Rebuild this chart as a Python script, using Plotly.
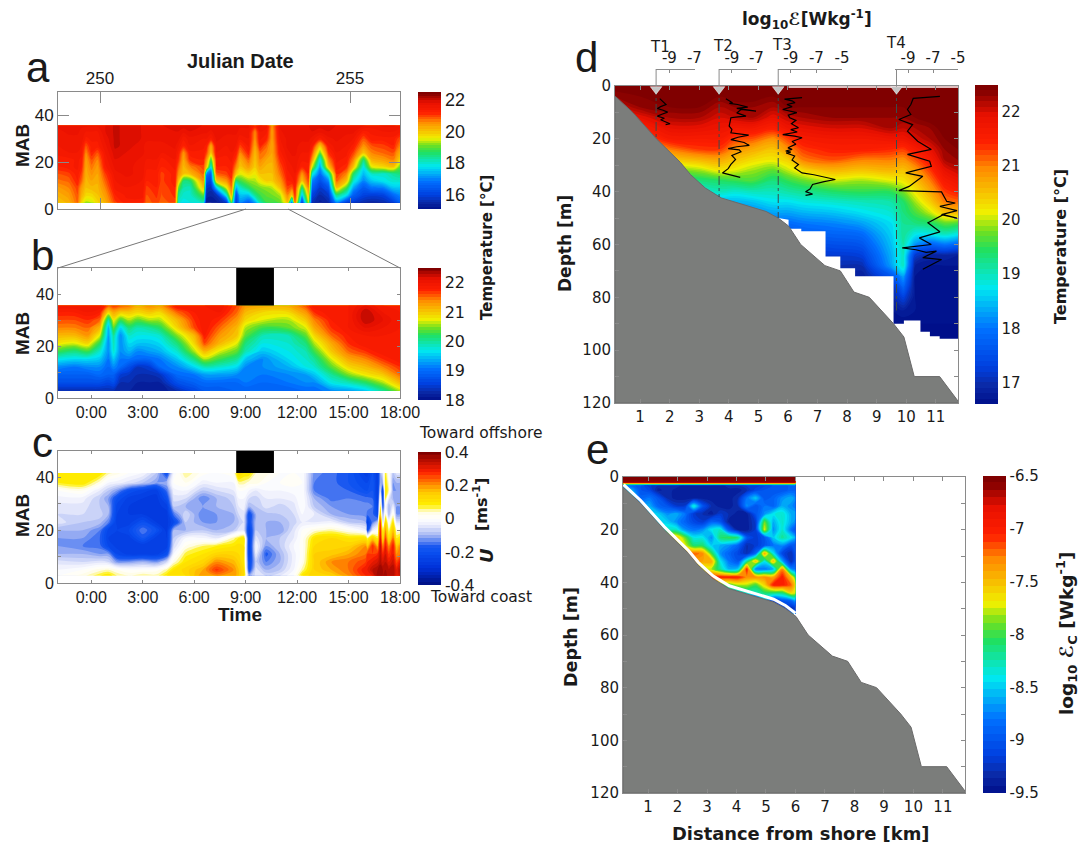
import numpy as np
import plotly.graph_objects as go

W, H = 1086, 843

# ---------- colour scales ----------
JET = [[0, '#000f8a'], [0.06, '#0a2aa8'], [0.12, '#0040e0'], [0.237, '#0070ff'], [0.37, '#00e8f0'],
       [0.49, '#20e060'], [0.55, '#70e020'], [0.61, '#f0f000'], [0.75, '#ff8c00'], [0.83, '#ff2000'],
       [0.92, '#e81000'], [1, '#800000']]
DIV = [[0, '#000f80'], [0.125, '#0030d8'], [0.25, '#0a50f0'], [0.2875, '#1a58f0'], [0.375, '#a8b8f4'], [0.45, '#eceefc'],
       [0.5, '#ffffff'], [0.55, '#fffce0'], [0.6, '#fff000'], [0.7, '#ffc800'], [0.75, '#ff9000'], [0.85, '#ff2000'],
       [1, '#800000']]

# ---------- panel a ----------
a_mab = [2.7, 6, 9, 12, 15, 18, 21, 24, 27, 30, 33, 35.7]
a_jd = [249.15, 249.37, 249.55, 249.63, 249.72, 249.83, 249.95, 250.10, 250.3, 250.53, 250.85, 250.93, 251.13,
        251.23, 251.5, 251.57, 251.67, 251.8, 252.07, 252.13, 252.22, 252.33, 252.53, 252.63, 252.72, 252.8,
        252.97, 253.1, 253.2, 253.33, 253.44, 253.6, 253.75, 253.84, 253.9, 254.04, 254.17, 254.24, 254.4,
        254.57, 254.73, 254.93, 255.07, 255.27, 255.43, 255.67, 255.87, 256.0]
a_temp_cols = [
    [20.0, 20.2, 20.4, 20.7, 20.9, 21.2, 21.3, 21.4, 21.5, 21.6, 21.6, 21.7],
    [20.2, 20.4, 20.6, 20.8, 21.0, 21.3, 21.3, 21.5, 21.6, 21.6, 21.7, 21.8],
    [20.8, 20.9, 21.0, 21.2, 21.3, 21.4, 21.4, 21.5, 21.6, 21.6, 21.7, 21.8],
    [19.8, 20.2, 20.4, 20.8, 21.0, 21.2, 21.3, 21.4, 21.5, 21.6, 21.6, 21.7],
    [19.3, 19.8, 20.0, 20.1, 20.2, 20.3, 20.4, 20.6, 20.9, 21.3, 21.5, 21.7],
    [19.4, 19.8, 20.1, 20.3, 20.5, 20.7, 20.9, 21.2, 21.3, 21.4, 21.5, 21.7],
    [19.8, 20.0, 20.1, 20.2, 20.3, 20.4, 20.6, 20.9, 21.3, 21.4, 21.5, 21.7],
    [20.2, 20.4, 20.6, 20.8, 21.0, 21.3, 21.4, 21.5, 21.6, 21.7, 21.8, 21.8],
    [21.0, 21.2, 21.4, 21.5, 21.6, 21.7, 21.8, 21.9, 22.0, 22.0, 22.0, 22.0],
    [21.3, 21.4, 21.5, 21.6, 21.7, 21.7, 21.8, 21.8, 21.9, 21.9, 21.9, 21.9],
    [21.3, 21.4, 21.5, 21.5, 21.6, 21.6, 21.6, 21.7, 21.7, 21.8, 21.8, 21.8],
    [20.8, 20.9, 21.0, 21.2, 21.3, 21.4, 21.5, 21.6, 21.6, 21.7, 21.7, 21.8],
    [21.0, 21.1, 21.2, 21.3, 21.3, 21.4, 21.5, 21.6, 21.6, 21.7, 21.7, 21.8],
    [20.8, 20.9, 20.9, 21.0, 21.0, 21.2, 21.3, 21.5, 21.6, 21.7, 21.7, 21.8],
    [21.0, 21.1, 21.2, 21.3, 21.3, 21.4, 21.5, 21.6, 21.7, 21.8, 21.8, 21.9],
    [18.0, 18.3, 19.0, 20.0, 20.5, 20.8, 21.1, 21.3, 21.5, 21.7, 21.8, 21.9],
    [17.8, 18.0, 18.2, 18.5, 20.0, 20.1, 20.3, 20.5, 21.2, 21.4, 21.7, 21.9],
    [17.9, 18.0, 18.1, 18.6, 20.1, 20.6, 21.1, 21.3, 21.5, 21.6, 21.8, 21.9],
    [18.1, 19.0, 20.0, 20.5, 20.8, 21.0, 21.2, 21.3, 21.4, 21.5, 21.7, 21.8],
    [15.2, 15.5, 15.7, 16.2, 17.0, 20.0, 20.5, 21.0, 21.3, 21.5, 21.7, 21.8],
    [15.2, 15.4, 15.6, 16.0, 16.5, 17.8, 18.8, 20.0, 20.3, 21.3, 21.6, 21.8],
    [15.3, 15.6, 17.5, 19.9, 20.8, 21.2, 21.3, 21.5, 21.6, 21.7, 21.8, 21.8],
    [15.8, 18.0, 19.5, 20.5, 21.0, 21.2, 21.3, 21.4, 21.5, 21.6, 21.7, 21.8],
    [19.0, 20.2, 20.7, 21.0, 21.2, 21.3, 21.4, 21.5, 21.6, 21.6, 21.7, 21.8],
    [15.9, 16.2, 17.3, 18.5, 20.0, 20.6, 21.0, 21.3, 21.5, 21.6, 21.7, 21.8],
    [17.0, 17.5, 18.0, 18.8, 19.5, 20.0, 20.2, 20.6, 21.0, 21.4, 21.6, 21.7],
    [16.5, 17.5, 18.6, 19.2, 19.8, 20.4, 20.8, 21.2, 21.4, 21.5, 21.6, 21.7],
    [17.2, 18.4, 19.0, 19.3, 19.6, 19.9, 20.0, 20.1, 20.3, 20.5, 20.6, 21.3],
    [18.2, 18.8, 19.1, 19.6, 20.0, 20.3, 20.6, 20.8, 21.2, 21.4, 21.5, 21.7],
    [18.8, 19.0, 19.2, 19.9, 20.0, 20.1, 20.3, 20.6, 20.8, 21.2, 21.4, 21.6],
    [18.8, 19.1, 19.3, 19.9, 20.0, 20.1, 20.2, 20.3, 20.3, 20.4, 20.4, 20.5],
    [19.0, 19.3, 20.0, 20.4, 20.7, 20.9, 21.1, 21.3, 21.4, 21.5, 21.6, 21.7],
    [20.0, 20.6, 21.0, 21.2, 21.3, 21.4, 21.5, 21.6, 21.7, 21.7, 21.8, 21.8],
    [16.5, 19.9, 20.8, 21.3, 21.4, 21.5, 21.6, 21.7, 21.7, 21.8, 21.8, 21.8],
    [20.8, 21.2, 21.3, 21.4, 21.5, 21.6, 21.6, 21.7, 21.7, 21.8, 21.8, 21.8],
    [16.0, 17.5, 18.5, 20.0, 20.5, 21.2, 21.4, 21.5, 21.6, 21.7, 21.8, 21.8],
    [19.5, 20.0, 20.6, 21.0, 21.2, 21.3, 21.4, 21.5, 21.6, 21.7, 21.8, 21.8],
    [15.6, 16.0, 16.5, 17.0, 18.0, 19.5, 20.5, 21.0, 21.4, 21.6, 21.8, 21.9],
    [15.3, 15.5, 15.8, 16.2, 16.7, 17.2, 17.8, 19.0, 20.0, 21.3, 21.7, 21.9],
    [15.5, 15.8, 16.3, 17.0, 18.0, 20.0, 20.6, 21.1, 21.4, 21.6, 21.8, 21.9],
    [17.0, 18.5, 20.0, 20.8, 21.1, 21.3, 21.4, 21.5, 21.6, 21.7, 21.8, 21.8],
    [15.9, 17.8, 18.8, 20.0, 20.6, 21.1, 21.3, 21.4, 21.5, 21.6, 21.7, 21.8],
    [15.8, 16.5, 17.2, 18.0, 18.6, 20.0, 20.6, 21.0, 21.3, 21.5, 21.7, 21.8],
    [15.5, 16.0, 16.4, 17.0, 17.4, 17.8, 18.5, 20.0, 20.5, 20.9, 21.3, 21.7],
    [15.4, 15.9, 16.8, 17.5, 18.0, 19.5, 20.2, 20.6, 20.9, 21.3, 21.4, 21.6],
    [15.5, 16.0, 16.9, 17.8, 18.0, 19.8, 20.4, 20.8, 21.0, 21.3, 21.5, 21.7],
    [15.9, 16.7, 17.5, 18.0, 18.3, 20.0, 20.6, 20.9, 21.2, 21.3, 21.5, 21.7],
    [16.5, 17.0, 17.5, 18.0, 18.5, 19.0, 19.8, 20.2, 20.6, 20.9, 21.4, 21.6],
]

# ---------- panel b ----------
b_mab = [2.7, 6, 9, 12, 15, 18, 21, 24, 27, 30, 33, 35.6]
b_hour = [-1.94, -1, -0.2, 0.5, 1.0, 1.3, 1.7, 2.2, 2.7, 3.4, 4, 5, 6, 6.6, 7.5, 8.5, 9, 10, 11.5, 12.5, 13, 14, 15,
          16, 17, 18]
b_temp_cols = [
    [18.3, 18.7, 18.9, 19.2, 19.7, 20.3, 20.8, 21.1, 21.4, 21.6, 21.8, 22.0],
    [18.3, 18.7, 18.9, 19.1, 19.6, 20.1, 20.7, 21.1, 21.4, 21.6, 21.8, 22.0],
    [18.3, 18.7, 18.9, 19.2, 19.6, 20.3, 20.9, 21.3, 21.5, 21.7, 21.9, 22.0],
    [18.3, 18.7, 19.0, 19.2, 19.5, 19.8, 20.2, 20.7, 21.1, 21.5, 21.8, 22.0],
    [18.3, 18.6, 18.9, 19.0, 19.1, 19.2, 19.2, 19.3, 19.4, 19.9, 20.9, 21.6],
    [18.3, 18.7, 18.9, 19.2, 19.5, 19.8, 19.9, 20.0, 20.4, 20.8, 21.2, 21.7],
    [18.2, 18.3, 18.5, 19.0, 19.1, 19.2, 19.2, 19.2, 19.6, 20.3, 21.0, 21.6],
    [18.2, 18.3, 18.4, 18.7, 19.1, 19.4, 19.6, 19.8, 20.1, 20.6, 21.0, 21.5],
    [18.1, 18.2, 18.3, 18.4, 19.0, 19.2, 19.5, 19.7, 19.9, 20.4, 20.9, 21.2],
    [18.1, 18.2, 18.3, 18.5, 19.0, 19.3, 19.5, 19.7, 20.0, 20.6, 21.0, 21.4],
    [18.1, 18.2, 18.4, 19.0, 19.1, 19.4, 19.6, 19.8, 20.2, 20.6, 20.9, 21.3],
    [18.3, 18.7, 19.0, 19.2, 19.5, 19.8, 20.1, 20.5, 20.9, 21.1, 21.5, 21.9],
    [18.6, 18.9, 19.1, 19.6, 20.1, 20.6, 20.9, 21.1, 21.6, 21.7, 21.8, 21.9],
    [18.8, 19.0, 19.3, 19.9, 20.6, 21.1, 21.6, 21.8, 21.9, 21.9, 21.9, 21.9],
    [18.8, 19.0, 19.3, 19.8, 20.3, 20.7, 21.1, 21.3, 21.5, 21.7, 21.9, 22.0],
    [18.9, 19.0, 19.2, 19.6, 20.0, 20.4, 20.7, 21.0, 21.1, 21.3, 21.5, 21.6],
    [18.9, 19.1, 19.2, 19.2, 19.5, 19.9, 20.1, 20.4, 20.6, 20.9, 21.1, 21.3],
    [18.9, 19.0, 19.1, 19.2, 19.2, 19.5, 19.7, 19.9, 20.3, 20.7, 20.9, 21.2],
    [18.9, 19.1, 19.2, 19.4, 19.6, 19.7, 19.8, 19.9, 20.4, 20.6, 20.9, 21.2],
    [19.0, 19.2, 19.3, 19.7, 19.8, 19.9, 20.1, 20.4, 20.7, 21.0, 21.3, 21.6],
    [19.0, 19.2, 19.5, 19.8, 20.0, 20.3, 20.6, 20.9, 21.2, 21.4, 21.7, 21.9],
    [19.2, 19.7, 20.0, 20.4, 20.7, 21.0, 21.2, 21.5, 21.7, 21.8, 21.9, 21.9],
    [19.3, 19.9, 20.5, 20.9, 21.2, 21.5, 21.7, 21.8, 21.9, 21.9, 21.9, 21.9],
    [19.5, 20.2, 20.8, 21.1, 21.4, 21.7, 21.9, 21.9, 22.1, 22.3, 22.3, 22.1],
    [20.0, 20.6, 21.0, 21.4, 21.7, 21.9, 21.9, 21.9, 22.0, 22.1, 22.0, 21.9],
    [20.6, 21.1, 21.5, 21.7, 21.9, 21.9, 21.9, 21.9, 21.9, 21.9, 21.9, 21.9],
]

# ---------- panel c ----------
c_mab = [2.7, 5, 8, 11, 14, 17, 20, 23, 26, 29, 32, 35, 38, 41.7]
c_hour = [-1.94, -0.5, 0.5, 1, 1.5, 2.2, 3, 3.8, 4.4, 4.8, 5.5, 6.5, 7.3, 8.3, 8.6, 8.9, 9.2, 9.6, 10.2, 11, 11.8, 12.3,
          13, 14, 15, 16, 16.1, 16.4, 16.7, 16.85, 17.0, 17.15, 17.35, 17.6, 17.8, 18]
c_u_cols = [
    [0, -.02, -.05, -.1, -.12, -.12, -.1, -.05, -.06, -.05, -.03, 0, .08, .1],
    [.03, 0, -.06, -.1, -.14, -.12, -.1, -.08, -.06, -.05, -.03, .02, .1, .1],
    [.08, .03, -.05, -.12, -.15, -.16, -.14, -.09, -.07, -.08, -.08, -.04, .03, .1],
    [.1, .04, -.06, -.12, -.22, -.24, -.23, -.14, -.1, -.1, -.12, -.08, -.02, .05],
    [.06, .02, -.12, -.22, -.25, -.25, -.24, -.25, -.24, -.23, -.2, -.12, -.03, .03],
    [.04, 0, -.12, -.25, -.26, -.25, -.22, -.25, -.26, -.26, -.25, -.2, -.05, 0],
    [.06, 0, -.1, -.25, -.26, -.18, -.14, -.2, -.26, -.27, -.26, -.23, -.08, -.02],
    [.05, .01, -.12, -.25, -.26, -.25, -.2, -.26, -.27, -.27, -.27, -.25, -.12, -.08],
    [.1, .05, -.06, -.2, -.25, -.26, -.27, -.27, -.27, -.25, -.2, -.15, -.1, -.2],
    [.12, .1, .03, -.02, -.06, -.08, -.1, -.22, -.15, -.08, -.05, -.03, 0, -.02],
    [.12, .13, .1, .07, .02, -.02, -.1, -.08, -.06, -.1, -.06, -.02, .02, .06],
    [.2, .18, .13, .1, .06, -.02, -.08, -.12, -.14, -.12, -.14, -.08, -.03, .01],
    [.2, .27, .2, .13, .08, -.04, -.1, -.12, -.12, -.1, -.1, -.06, -.02, 0],
    [.2, .2, .17, .13, .1, .05, -.08, -.1, -.1, -.08, -.07, -.04, -.02, .02],
    [.16, .16, .14, .12, .11, .08, -.05, -.08, -.06, -.04, -.02, 0, .05, .14],
    [.12, .12, .1, .1, .1, .1, -.05, -.06, -.05, -.03, -.02, 0, .05, .1],
    [-.1, -.2, -.22, -.25, -.25, -.25, -.24, -.2, -.2, -.1, -.06, -.02, .03, .1],
    [-.05, -.05, -.08, -.04, -.02, -.05, -.08, -.09, -.1, -.08, -.07, -.04, .03, .04],
    [-.06, -.1, -.14, -.17, -.12, -.1, -.1, -.1, -.09, -.05, -.04, -.02, 0, .03],
    [-.04, -.08, -.1, -.1, -.08, -.08, -.12, -.1, -.08, -.07, -.04, -.02, 0, 0],
    [0, -.02, -.03, -.03, -.02, -.04, -.05, -.07, -.06, -.05, -.03, -.01, .01, 0],
    [.1, .05, .02, .01, .01, .01, 0, -.04, -.02, 0, 0, 0, 0, 0],
    [.14, .14, .14, .14, .12, .1, .03, -.04, -.04, -.08, -.1, -.14, -.14, -.13],
    [.14, .18, .2, .15, .13, .12, .05, -.03, -.1, -.12, -.15, -.15, -.15, -.15],
    [.2, .22, .22, .18, .14, .1, .02, -.08, -.12, -.12, -.14, -.16, -.18, -.18],
    [.28, .3, .26, .22, .2, .1, -.03, -.1, -.13, -.13, -.15, -.2, -.22, -.25],
    [.3, .3, .28, .26, .15, .06, -.2, -.25, -.15, -.13, -.15, -.2, -.22, -.25],
    [.3, .34, .3, .26, .28, .14, -.04, -.14, -.15, -.14, -.16, -.18, -.18, -.2],
    [.38, .36, .32, .28, .18, .08, 0, -.08, -.22, -.24, -.26, -.26, -.26, -.26],
    [.38, .38, .35, .34, .35, .32, .3, .28, .15, .08, .02, -.05, -.1, -.1],
    [.36, .36, .32, .28, .2, .1, .05, -.1, -.12, -.2, -.25, -.25, -.1, -.05],
    [.38, .36, .34, .32, .3, .26, .2, .14, .04, 0, .08, .1, .1, .08],
    [.34, .34, .3, .26, .2, .1, .05, 0, -.1, -.1, -.05, .05, .03, 0],
    [.36, .36, .33, .3, .3, .22, .16, .1, .03, -.04, -.1, -.12, -.12, -.08],
    [.3, .3, .25, .2, .15, .08, .03, -.05, -.12, -.12, -.1, -.12, -.1, -.05],
    [.33, .35, .3, .22, .2, .1, .03, -.05, -.12, -.12, -.1, -.12, -.1, -.05],
]

# ---------- panel d ----------
d_depth = [0, 4, 8, 12, 16, 20, 24, 28, 32, 36, 40, 44, 48, 52, 56, 60, 64, 68, 72, 76, 80, 85, 90, 96]
d_km = [0.15, 1.0, 2.0, 3.0, 3.7, 4.2, 4.8, 5.5, 6.0, 6.5, 7.5, 8.5, 9.5, 9.9, 10.3, 10.8, 11.3, 11.75]
d_temp_cols = [
    [22.5, 22.3, 22.0, 21.8, 21.5, 21.0, 20.5, 20.0, 19.5, 19.0, 18.8, 18.5, 18.2, 18.0, 17.8, 17.5, 17.2, 17.0, 16.9, 16.8, 16.7, 16.7, 16.7, 16.7],
    [22.5, 22.4, 22.3, 21.9, 21.5, 21.1, 20.6, 20.1, 19.6, 19.1, 18.8, 18.5, 18.2, 18.0, 17.8, 17.5, 17.2, 17.0, 16.9, 16.8, 16.7, 16.7, 16.7, 16.7],
    [22.5, 22.5, 22.4, 22.2, 21.9, 21.6, 21.0, 20.4, 19.7, 19.1, 18.8, 18.5, 18.2, 18.0, 17.8, 17.5, 17.2, 17.0, 16.9, 16.8, 16.7, 16.7, 16.7, 16.7],
    [22.5, 22.5, 22.4, 22.2, 21.9, 21.6, 21.3, 20.6, 19.9, 19.3, 18.8, 18.5, 18.2, 18.0, 17.8, 17.5, 17.2, 17.0, 16.9, 16.8, 16.7, 16.7, 16.7, 16.7],
    [22.5, 22.4, 22.2, 22.0, 21.8, 21.6, 21.3, 20.7, 20.2, 19.4, 19.0, 18.4, 18.2, 18.0, 17.8, 17.5, 17.2, 17.0, 16.9, 16.8, 16.7, 16.7, 16.7, 16.7],
    [22.5, 22.5, 22.3, 22.1, 21.7, 21.3, 20.9, 20.5, 20.1, 19.5, 18.9, 18.4, 18.0, 17.9, 17.8, 17.5, 17.2, 17.0, 16.9, 16.8, 16.7, 16.7, 16.7, 16.7],
    [22.5, 22.5, 22.3, 22.2, 21.7, 21.2, 20.7, 20.3, 19.9, 19.6, 19.0, 18.5, 18.1, 17.9, 17.8, 17.5, 17.2, 17.0, 16.9, 16.8, 16.7, 16.7, 16.7, 16.7],
    [22.5, 22.4, 22.2, 21.9, 21.5, 20.9, 20.5, 20.2, 19.7, 19.3, 19.0, 18.7, 18.3, 17.9, 17.8, 17.5, 17.2, 17.0, 16.9, 16.8, 16.7, 16.7, 16.7, 16.7],
    [22.5, 22.5, 22.4, 22.1, 21.8, 21.3, 20.9, 20.4, 20.0, 19.5, 19.1, 18.7, 18.3, 17.9, 17.6, 17.4, 17.2, 17.0, 16.9, 16.8, 16.7, 16.7, 16.7, 16.7],
    [22.5, 22.5, 22.4, 22.2, 21.9, 21.6, 21.3, 21.0, 20.3, 19.7, 19.2, 18.8, 18.4, 18.0, 17.7, 17.4, 17.2, 17.0, 16.9, 16.8, 16.7, 16.7, 16.7, 16.7],
    [22.5, 22.5, 22.4, 22.3, 22.0, 21.7, 21.5, 21.2, 20.6, 20.0, 19.4, 18.9, 18.5, 18.1, 17.8, 17.5, 17.2, 17.0, 16.9, 16.8, 16.7, 16.7, 16.7, 16.7],
    [22.5, 22.5, 22.4, 22.3, 22.0, 21.7, 21.5, 21.0, 20.5, 19.9, 19.5, 19.0, 18.7, 18.3, 17.9, 17.6, 17.3, 17.0, 16.8, 16.8, 16.7, 16.7, 16.7, 16.7],
    [22.5, 22.5, 22.4, 22.3, 22.2, 21.8, 21.4, 21.0, 20.6, 20.1, 19.5, 19.1, 18.9, 18.7, 18.6, 18.5, 18.4, 18.3, 17.6, 17.0, 16.9, 16.7, 16.6, 16.6],
    [22.5, 22.5, 22.4, 22.3, 22.1, 21.8, 21.3, 20.9, 20.5, 20.2, 19.8, 19.4, 19.3, 19.2, 19.2, 19.1, 19.0, 19.0, 18.3, 17.8, 17.3, 16.8, 16.6, 16.6],
    [22.5, 22.5, 22.5, 22.4, 22.2, 22.0, 21.6, 21.2, 20.8, 20.5, 20.2, 19.9, 19.6, 19.3, 18.8, 18.2, 17.2, 16.8, 16.7, 16.7, 16.7, 16.7, 16.6, 16.6],
    [22.5, 22.5, 22.5, 22.5, 22.3, 22.2, 21.9, 21.6, 21.3, 21.0, 20.7, 20.4, 20.0, 19.4, 18.8, 17.8, 16.9, 16.7, 16.7, 16.7, 16.7, 16.7, 16.6, 16.6],
    [22.5, 22.5, 22.5, 22.5, 22.5, 22.4, 22.3, 22.2, 21.9, 21.6, 21.3, 21.0, 20.5, 19.7, 19.0, 18.0, 16.9, 16.7, 16.7, 16.7, 16.7, 16.7, 16.6, 16.6],
    [22.5, 22.5, 22.5, 22.5, 22.5, 22.5, 22.4, 22.3, 22.1, 21.8, 21.5, 21.1, 20.6, 19.6, 18.8, 17.8, 16.8, 16.7, 16.7, 16.7, 16.7, 16.7, 16.6, 16.6],
]

bathy_km = [0.17, 0.75, 1.55, 2.37, 2.7, 3.2, 3.75, 4.68, 5.26, 5.67, 6.02, 6.43, 7.25, 7.77, 8.23, 8.75, 9.57, 9.92,
            10.27, 11.13, 11.8]
bathy_depth = [4, 10, 20, 29, 33.5, 38.6, 42.4, 45.6, 47.5, 50, 53, 60, 68, 70, 78, 80, 90, 95, 110, 110, 120]
floor_km = [5.67, 6.02, 6.02, 6.45, 6.45, 7.27, 7.27, 7.77, 7.77, 8.27, 8.27, 9.57, 9.57, 9.92, 9.92, 10.48, 10.48,
            10.8, 10.8, 11.13, 11.13, 11.8, 11.8, 5.67]
floor_depth = [50, 50.6, 54, 54, 55, 55, 64.5, 64.5, 69, 69, 72, 72, 90, 90, 88.8, 88.8, 93, 93, 94.7, 94.7, 95.7, 95.7,
               120, 120]
d_strip_km = [6.02, 11.75]
d_strip_depth = [0.35, 0.35]

station_km = [1.54, 3.67, 5.67, 9.67]
station_bottom = [20, 42, 50, 85]
station_names = ['T1', 'T2', 'T3', 'T4']

t1_eps = [-9.77, -9.5, -9.27, -9.7, -9.96, -9.5, -9.14, -9.6, -9.96, -9.4, -9.7, -8.95, -9.3]
t1_depth = [4.8, 5.8, 7, 7.8, 8.5, 9.2, 9.9, 10.7, 11.4, 12.2, 12.8, 14.3, 14.6]
t2_eps = [-9.49, -8.95, -9.2, -8.53, -7.71, -8.6, -7.03, -8.26, -8.6, -7.85, -8.5, -9.08, -9.22, -9.0, -9.08, -8.2, -7.63,
          -8.5, -9.08, -8.0, -7.58, -8.6, -9.3, -8.4, -8.26, -9.0, -8.7, -9.08, -9.3, -9.77, -9.1, -8.32]
t2_depth = [4.8, 6.3, 6.6, 7, 8, 8.5, 9.5, 8.9, 10.2, 11.4, 11.7, 12, 15.2, 16.4, 17.7, 18.2, 18.6, 19.4, 20.3, 21.4, 22.5,
            23, 23.7, 24.2, 24.9, 26.3, 27.8, 29.7, 31.3, 32.9, 33.7, 34.6]
t3_eps = [-8.12, -9.49, -8.9, -8.67, -9.3, -8.9, -9.63, -9.0, -8.53, -9.2, -9.08, -8.6, -8.95, -8.4, -9.0, -8.5, -9.63, -8.7,
          -8.12, -8.9, -8.6, -9.22, -8.9, -9.4, -9.0, -9.36, -8.7, -8.9, -8.4, -8.7, -8.12, -7.2, -6.3, -5.52, -6.4, -7.3,
          -7.5, -7.85, -7.3, -7.85]
t3_depth = [4.4, 5, 5.6, 6.3, 7, 7.8, 8.9, 9.5, 10.1, 11, 12, 13, 14.3, 15.8, 16.5, 17.4, 18.4, 19, 19.6, 21, 22, 23.4, 24,
            24.6, 25, 25.3, 26.5, 28, 29.7, 31, 32.9, 33.6, 34.5, 35.4, 36.2, 37.3, 39, 40, 40.9, 41.4]
t4_eps = [-6.45, -8.59, -8.78, -9.05, -8.78, -9.74, -8.64, -9.05, -8.23, -7.14, -9.05, -7.27, -7.14, -9.19, -7.82, -8.92,
          -9.74, -6.32, -5.9, -5.22, -6.45, -5.08, -6.32, -5.08, -6.18, -7.41, -6.45, -8.1, -7.14, -9.47, -8.37, -7.55,
          -6.73, -7.82, -6.32, -7.82]
t4_depth = [3.9, 4.7, 7, 8.9, 10.8, 12.7, 14.6, 17.1, 20.9, 24, 25.9, 28.5, 30.4, 32.9, 34.2, 38, 39.6, 40.1, 43.7, 44.3,
            45.6, 47.2, 48.7, 50, 48.7, 51.8, 55.2, 57.5, 60, 61.3, 62, 63, 62.5, 65, 65.7, 69.4]

# ---------- panel e ----------
e_km = [.15, .45, .75, 1.05, 1.35, 1.65, 1.95, 2.25, 2.55, 2.85, 3.15, 3.45, 3.75, 4.05, 4.35, 4.65, 4.95, 5.25, 5.55,
        5.85, 6.0]
e_depth = [0, 2, 2.6, 3.2, 5, 8, 11, 14, 17, 20, 23, 26, 29, 32, 35, 38, 41, 44, 47, 50, 52]
e_eps_rows = [
    [-6.5] * 21,
    [-6.6] * 21,
    [-7.9] * 21,
    [-8.8, -8.9, -9.0, -9.2, -9.3, -9.3, -9.3, -9.4, -9.4, -9.4, -9.4, -9.4, -9.3, -9.3, -9.2, -9.2, -9.1, -9, -9, -8.9, -8.9],
    [-8.6, -8.6, -9, -9.1, -9.4, -9.3, -9.4, -9.4, -9.4, -9.4, -9.4, -9.4, -9.4, -9.4, -9.3, -9.1, -9, -9, -9, -8.9, -8.9],
    [-8.3, -8.3, -8.9, -8.8, -9, -9.3, -9.4, -9.4, -9.4, -9.4, -9.4, -9.4, -9.4, -9.3, -8.8, -8.5, -9, -8.9, -8.7, -8.6, -8.7],
    [-8.6, -8.6, -8.6, -8.6, -8.9, -9, -9.2, -9.2, -8.3, -9, -9.3, -9.4, -9.4, -9.3, -8.7, -9, -8.8, -8.9, -8.6, -8.7, -8.8],
    [-8.5, -8.5, -8.5, -8.5, -8.5, -8.7, -8.6, -8.8, -9.2, -9.3, -9.4, -9.2, -9.3, -9.4, -9.4, -9, -8.7, -8.4, -8.3, -8.6, -8.6],
    [-8.5, -8.5, -8.5, -8.5, -8.5, -8.5, -8.7, -8.9, -9.1, -9.2, -8.9, -9, -9.4, -9.4, -9.4, -9.2, -7.9, -8.6, -8.3, -8.6, -8.7],
    [-8.3, -8.3, -8.3, -8.3, -8.3, -8.3, -8.3, -8.7, -8.8, -8.7, -8.4, -8.3, -9, -9.4, -9.4, -9.2, -7.7, -8.7, -8.3, -8.8, -9],
    [-7.5, -7.5, -7.5, -7.5, -7.5, -7.5, -7.5, -7.9, -8.4, -8.4, -8.7, -8.1, -8, -8.1, -9, -9.2, -9, -8.5, -8.2, -8.4, -8.6],
    [-7.7, -7.7, -7.7, -7.7, -7.7, -7.7, -7.7, -7.7, -8.1, -8.1, -8.5, -8.6, -8.7, -8.9, -9.3, -9.2, -9, -8.8, -8.7, -9, -9],
    [-7.4, -7.4, -7.4, -7.4, -7.4, -7.4, -7.4, -7.4, -7.2, -7.3, -8, -8.7, -8.9, -9.1, -9.3, -8.9, -7.4, -8.4, -9.1, -9.3, -9],
    [-7.4, -7.4, -7.4, -7.4, -7.4, -7.4, -7.4, -7.4, -7.4, -7.4, -7.4, -8.4, -8.8, -9, -8.2, -7.5, -8.4, -7.5, -8.6, -9.3, -9],
    [-7.8, -7.8, -7.8, -7.8, -7.8, -7.8, -7.8, -7.8, -7.8, -7.8, -7.8, -8.2, -8.6, -8.5, -7, -8.8, -8.8, -8.6, -7.3, -8.7, -8.8],
    [-7, -7, -7, -7, -7, -7, -7, -7, -7, -7, -7, -7, -7, -7, -7.3, -7.3, -7.3, -7.4, -7, -7.5, -8],
    [-8, -8, -8, -8, -8, -8, -8, -8, -8, -8, -8, -8, -8, -7.8, -7.8, -8, -7.6, -7, -7, -7.2, -7.6],
    [-8.5, -8.5, -8.5, -8.5, -8.5, -8.5, -8.5, -8.5, -8.5, -8.5, -8.5, -8.5, -8.5, -8.5, -8.3, -8.3, -8.1, -8.1, -8.1, -7.6, -7.7],
    [-9.2, -9.2, -9.2, -9.2, -9.2, -9.2, -9.2, -9.2, -9.2, -9.2, -9.2, -9.2, -9.2, -9.2, -9.2, -9.2, -8.6, -9.2, -9, -8.9, -8.6],
    [-9.2, -9.2, -9.2, -9.2, -9.2, -9.2, -9.2, -9.2, -9.2, -9.2, -9.2, -9.2, -9.2, -9.2, -9.2, -9.2, -9.2, -9.2, -9.2, -9.3, -9.2],
    [-8.6] * 21,
]
e_gap_km = [0.17, 0.75, 1.55, 2.37, 2.7, 3.2, 3.75, 4.68, 5.26, 5.67, 6.0]
e_gap_depth = [4, 10, 20, 29, 33.5, 38.6, 42.4, 45.6, 47.5, 50, 52.8]
e_rug_km = [.18, .22, .26, .3, .34, .38, .42, .46, .5, .54, .58, .62, .66, .7, .74, .78, .82, .86, .9, .95, 1.0, 1.1, 1.2,
            1.3, 1.45, 1.6, 1.75, 1.9, 2.05, 2.2, 2.35, 2.5, 2.65, 2.8, 2.95, 3.1, 3.25, 3.4, 3.55, 3.7, 3.85, 4.0,
            4.15, 4.3, 4.45, 4.6, 4.75, 4.9, 5.05, 5.2, 5.35, 5.5, 5.7, 5.85, 6.0]

GRID = '#8a8a8a'
SANS = 'Liberation Sans'
DJ = 'DejaVu Sans'
TXT = '#1a1a1a'


def xdom(l, r):
    return [l / W, r / W]


def ydom(t, b):
    return [1 - b / H, 1 - t / H]


def cbar(l, t, b, vals, texts, family, size):
    return dict(x=l / W, xanchor='left', y=1 - t / H, yanchor='top', len=(b - t) / H, lenmode='fraction',
                thickness=23, thicknessmode='pixels', xpad=0, ypad=0, outlinewidth=0, ticks='',
                tickvals=vals, ticktext=texts, ticklabelposition='outside',
                tickfont=dict(family=family, size=size, color=TXT))


def field(x, y, z, scale, lo, hi, step, xa, ya, bar):
    return go.Contour(x=x, y=y, z=z, colorscale=scale, zmin=lo, zmax=hi, autocontour=False,
                      contours=dict(start=lo, end=hi, size=step, coloring='fill', showlines=False),
                      line_width=0, xaxis=xa, yaxis=ya, colorbar=bar, hoverinfo='skip')


fig = go.Figure()
fig.add_trace(field(a_jd, a_mab, np.array(a_temp_cols).T.tolist(), JET, 15.06, 22.5, 0.15, 'x', 'y',
                    cbar(418, 92, 209, [16, 18, 20, 22], ['16', '18', '20', '22'], SANS, 18)))
fig.add_trace(field(b_hour, b_mab, np.array(b_temp_cols).T.tolist(), JET, 18, 22.5, 0.1, 'x2', 'y2',
                    cbar(418, 268, 400, [18, 19, 20, 21, 22], ['18', '19', '20', '21', '22'], DJ, 16)))
fig.add_trace(field(c_hour, c_mab, np.array(c_u_cols).T.tolist(), DIV, -0.4, 0.4, 0.02, 'x3', 'y3',
                    cbar(418, 452, 585, [-0.4, -0.2, 0, 0.2, 0.4], ['-0.4', '-0.2', '0', '0.2', '0.4'], SANS, 17)))
fig.add_trace(field(d_km, d_depth, np.array(d_temp_cols).T.tolist(), JET, 16.6, 22.5, 0.1, 'x4', 'y4',
                    cbar(975, 85, 404, [17, 18, 19, 20, 21, 22], ['17', '18', '19', '20', '21', '22'], DJ, 15)))
fig.add_trace(field(e_km, e_depth, e_eps_rows, JET, -9.5, -6.5, 0.07, 'x5', 'y5',
                    cbar(983, 476, 793, [-9.5, -9, -8.5, -8, -7.5, -7, -6.5],
                         ['-9.5', '-9', '-8.5', '-8', '-7.5', '-7', '-6.5'], DJ, 15)))

# panel d masks
fig.add_trace(go.Scatter(x=floor_km, y=floor_depth, fill='toself', fillcolor='white', mode='none', xaxis='x4', yaxis='y4',
                         showlegend=False, hoverinfo='skip'))
fig.add_trace(go.Scatter(x=bathy_km + [11.8, 0.15, 0.15], y=bathy_depth + [120, 120, 4], fill='toself',
                         fillcolor='#7b7d7b', mode='lines', line=dict(color='#6a6a6a', width=1), xaxis='x4', yaxis='y4',
                         showlegend=False, hoverinfo='skip'))
fig.add_trace(go.Scatter(x=d_strip_km, y=d_strip_depth, mode='lines', line=dict(color='white', width=1.5), xaxis='x4',
                         yaxis='y4', showlegend=False, hoverinfo='skip'))
for km, bottom in zip(station_km, station_bottom):
    fig.add_trace(go.Scatter(x=[km, km], y=[0, bottom], mode='lines', line=dict(color='#3a4a4a', width=1, dash='dashdot'),
                             xaxis='x4', yaxis='y4', showlegend=False, hoverinfo='skip'))
fig.add_trace(go.Scatter(x=station_km, y=[1.2] * 4, mode='markers', xaxis='x4', yaxis='y4', showlegend=False,
                         marker=dict(symbol='triangle-down', size=10, color='#c4c4c4', line=dict(color='white', width=0.5)),
                         hoverinfo='skip'))

# panel e masks
fig.add_trace(go.Scatter(x=bathy_km + [11.8, 0.15, 0.15], y=bathy_depth + [120, 120, 4], fill='toself',
                         fillcolor='#7b7d7b', mode='lines', line=dict(color='#6a6a6a', width=1), xaxis='x5', yaxis='y5',
                         showlegend=False, hoverinfo='skip'))
fig.add_trace(go.Scatter(x=e_gap_km, y=[v - 1.1 for v in e_gap_depth], mode='lines', line=dict(color='white', width=3),
                         xaxis='x5', yaxis='y5', showlegend=False, hoverinfo='skip'))
fig.add_trace(go.Scatter(x=e_rug_km, y=[-0.2] * len(e_rug_km), mode='markers', xaxis='x5', yaxis='y5', cliponaxis=False,
                         marker=dict(symbol='line-ns', size=6, line=dict(color='#777777', width=1)),
                         showlegend=False, hoverinfo='skip'))

# dissipation profiles
for i, (e, dp) in enumerate([(t1_eps, t1_depth), (t2_eps, t2_depth), (t3_eps, t3_depth), (t4_eps, t4_depth)]):
    fig.add_trace(go.Scatter(x=e, y=dp, mode='lines', line=dict(color='black', width=1.2), xaxis=f'x{6 + i}', yaxis='y4',
                             showlegend=False, hoverinfo='skip'))

ax = dict(showgrid=False, zeroline=False, showline=True, linecolor=GRID, linewidth=1, mirror='ticks', ticks='inside',
          tickcolor=GRID, tickwidth=1)
hours = [0, 3, 6, 9, 12, 15, 18]
hour_txt = ['0:00', '3:00', '6:00', '9:00', '12:00', '15:00', '18:00']
f_sans = dict(family=SANS, size=16, color=TXT)
f_dj = dict(family=DJ, size=15, color=TXT)
mab_t = [0, 10, 20, 30, 40]
mab_txt = ['0', '', '20', '', '40']

layout = dict(
    width=W, height=H, autosize=False, margin=dict(l=0, r=0, t=0, b=0, autoexpand=False), paper_bgcolor='white',
    plot_bgcolor='rgba(0,0,0,0)', showlegend=False, font=dict(family=SANS, color=TXT),
    xaxis=dict(ax, domain=xdom(58, 400), range=[249.16, 256.0], side='top', tickvals=[250, 255], ticktext=['250', '255'],
               ticklen=11, tickfont=dict(f_sans, size=17), anchor='y'),
    yaxis=dict(ax, domain=ydom(92, 209), range=[0, 50], tickvals=[0, 20, 40], ticktext=['0', '20', '40'], ticklen=11,
               tickfont=dict(f_sans, size=17), anchor='x'),
    xaxis2=dict(ax, domain=xdom(58, 400), range=[-1.94, 18], tickvals=hours, ticktext=hour_txt, ticklen=3, tickfont=f_sans,
                anchor='y2'),
    yaxis2=dict(ax, domain=ydom(268, 398), range=[0, 50], tickvals=mab_t, ticktext=mab_txt, ticklen=3, tickfont=f_sans,
                anchor='x2'),
    xaxis3=dict(ax, domain=xdom(58, 400), range=[-1.94, 18], tickvals=hours, ticktext=hour_txt, ticklen=3, tickfont=f_sans,
                anchor='y3'),
    yaxis3=dict(ax, domain=ydom(451, 583), range=[0, 50], tickvals=mab_t, ticktext=mab_txt, ticklen=3, tickfont=f_sans,
                anchor='x3'),
    xaxis4=dict(ax, domain=xdom(615, 958), range=[0.15, 11.75], tickvals=list(range(1, 12)), ticklen=4, tickfont=f_dj,
                anchor='y4'),
    yaxis4=dict(ax, domain=ydom(86, 403), range=[120, 0], tickvals=list(range(0, 121, 10)),
                ticktext=[str(v) if v % 20 == 0 else '' for v in range(0, 121, 10)], ticklen=4, tickfont=f_dj, anchor='x4'),
    xaxis5=dict(ax, domain=xdom(623, 965), range=[0.15, 11.75], tickvals=list(range(1, 12)), ticklen=4, tickfont=f_dj,
                anchor='y5'),
    yaxis5=dict(ax, domain=ydom(477, 793), range=[120, 0], tickvals=list(range(0, 121, 10)),
                ticktext=[str(v) if v % 20 == 0 else '' for v in range(0, 121, 10)], ticklen=4, tickfont=f_dj, anchor='x5'),
)
# top axes of the dissipation profiles
profile_axes = [(656, 695, -10.07, -6.95, [-9, -7]), (719, 757, -10.05, -6.95, [-9, -7]),
                (778, 842, -10.0, -5.0, [-9, -7, -5]), (895, 958, -10.05, -5.0, [-9, -7, -5])]
for i, (l, r, lo, hi, tv) in enumerate(profile_axes):
    layout[f'xaxis{6 + i}'] = dict(domain=xdom(l, r), range=[lo, hi], anchor='free', position=1 - 69 / H, side='top',
                                   showgrid=False, zeroline=False, showline=True, linecolor=GRID, ticks='inside',
                                   ticklen=3, tickcolor=GRID, tickvals=tv, ticktext=[str(v) for v in tv], tickfont=f_dj)

shapes = [
    dict(type='rect', xref='x2', yref='y2', x0=8.45, x1=10.65, y0=35.6, y1=50, fillcolor='black', line_width=0),
    dict(type='rect', xref='x3', yref='y3', x0=8.45, x1=10.65, y0=41.7, y1=50, fillcolor='black', line_width=0),
    dict(type='line', xref='paper', yref='paper', x0=246 / W, y0=1 - 209 / H, x1=58 / W, y1=1 - 268 / H,
         line=dict(color='#777777', width=1)),
    dict(type='line', xref='paper', yref='paper', x0=288 / W, y0=1 - 209 / H, x1=400 / W, y1=1 - 268 / H,
         line=dict(color='#777777', width=1)),
]
for km in station_km:
    shapes.append(dict(type='line', xref='x4', yref='paper', x0=km, x1=km, y0=1 - 69 / H, y1=1 - 86 / H,
                       line=dict(color=GRID, width=1)))
layout['shapes'] = shapes


def note(x, y, text, size, family=SANS, angle=0, anchor='center'):
    return dict(x=x / W, y=1 - y / H, xref='paper', yref='paper', text=text, showarrow=False, textangle=angle,
                xanchor=anchor, yanchor='middle', font=dict(family=family, size=size, color=TXT))


layout['annotations'] = [
    note(38, 68, 'a', 42), note(42, 255, 'b', 42), note(42, 442, 'c', 42), note(586, 57, 'd', 42), note(597, 450, 'e', 42),
    note(240, 61, '<b>Julian Date</b>', 20),
    note(22, 146, '<b>MAB</b>', 19, angle=-90), note(22, 334, '<b>MAB</b>', 19, angle=-90),
    note(22, 516, '<b>MAB</b>', 19, angle=-90),
    note(240, 614, '<b>Time</b>', 19),
    note(487, 248, '<b>Temperature [°C]</b>', 15, DJ, -90),
    note(1060, 247, '<b>Temperature [°C]</b>', 16, DJ, -90),
    note(481, 505, '<b>[ms<sup>-1</sup>]</b>', 16, DJ, -90),
    note(486, 556, '<b><i>U</i></b>', 18, DJ, -90),
    note(480, 433, 'Toward offshore', 15.5, DJ),
    note(481, 597, 'Toward coast', 15.5, DJ),
    note(807, 19, '<b>log<sub>10</sub>ℰ[Wkg<sup>-1</sup>]</b>', 17, DJ),
    note(565, 244, '<b>Depth [m]</b>', 17, DJ, -90),
    note(571, 637, '<b>Depth [m]</b>', 17.5, DJ, -90),
    note(800, 833, '<b>Distance from shore [km]</b>', 17.9, DJ),
    note(1066, 634, '<b>log<sub>10</sub> ℰ<sub>C</sub> [Wkg<sup>-1</sup>]</b>', 18.5, DJ, -90),
] + [note(x, y, t, 15, DJ) for x, y, t in zip([660, 723, 782, 896], [47, 46, 45, 43], station_names)]

fig.update_layout(layout)
fig.write_html("out.html", config=dict(displayModeBar=False), post_script="document.body.style.margin='0';")
